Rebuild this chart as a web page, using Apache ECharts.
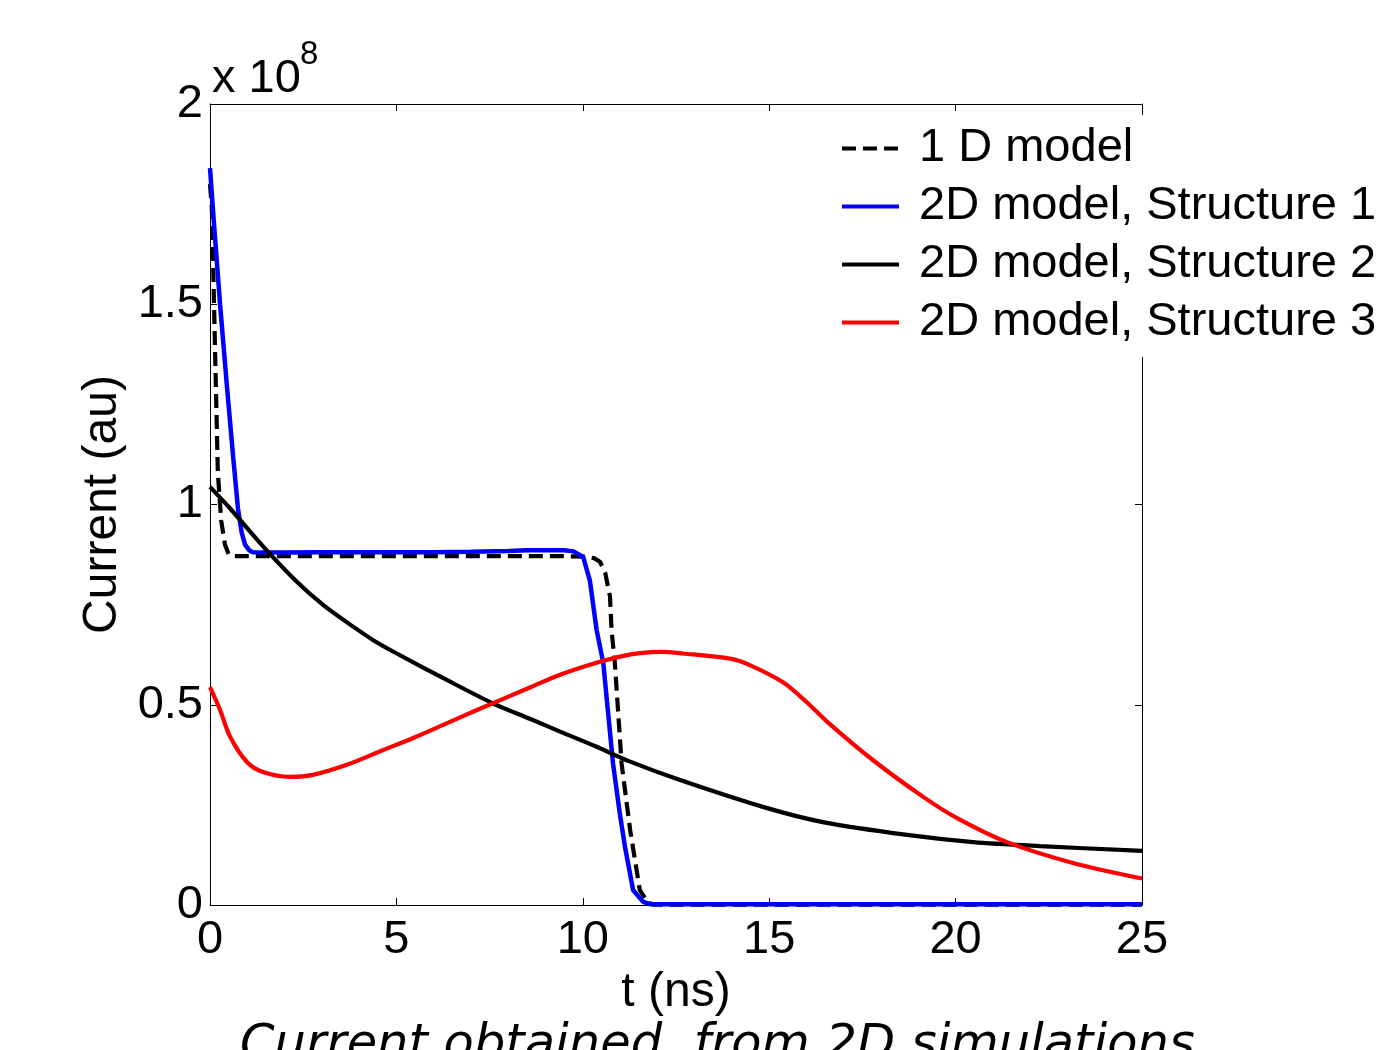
<!DOCTYPE html>
<html>
<head>
<meta charset="utf-8">
<script src="https://cdn.jsdelivr.net/npm/echarts@6/dist/echarts.min.js"></script>
<style>
html,body{margin:0;padding:0;background:#fff;}
#chart{width:1384px;height:1050px;}
</style>
</head>
<body>
<div id="chart"></div>
<script>
// Values of current in units of 1e8 (au), time in ns
const seriesNames = ['1 D model', '2D model, Structure 1', '2D model, Structure 2', '2D model, Structure 3'];
const xTicks = [0, 5, 10, 15, 20, 25];
const yTicks = [0, 0.5, 1, 1.5, 2];

const t1D = [0, 0.05, 0.13, 0.21, 0.3, 0.4, 0.5, 0.6, 2, 4, 6, 8, 9.5, 10.1, 10.3, 10.46, 10.6, 10.73, 10.77, 10.86, 11.04, 11.27, 11.53, 11.76, 11.9, 15, 20, 25];
const i1D = [1.80, 1.74, 1.41, 1.08, 0.96, 0.90, 0.876, 0.871, 0.871, 0.871, 0.871, 0.871, 0.871, 0.870, 0.866, 0.857, 0.83, 0.77, 0.687, 0.604, 0.354, 0.187, 0.037, 0.005, 0.001, 0.001, 0.001, 0.001];

const tS1 = [0, 0.1, 0.27, 0.45, 0.62, 0.75, 0.85, 0.94, 1.05, 1.15, 2, 3, 4, 5, 6, 7, 8, 8.5, 9, 9.5, 9.75, 10.01, 10.19, 10.37, 10.55, 10.68, 10.81, 10.99, 11.13, 11.35, 11.62, 11.8, 15, 20, 25];
const iS1 = [1.84, 1.71, 1.50, 1.30, 1.12, 0.99, 0.93, 0.90, 0.886, 0.881, 0.880, 0.881, 0.881, 0.881, 0.881, 0.882, 0.884, 0.886, 0.886, 0.886, 0.883, 0.869, 0.81, 0.687, 0.604, 0.479, 0.354, 0.23, 0.146, 0.037, 0.008, 0.002, 0.002, 0.002, 0.002];

const tS2 = [0, 0.54, 1.43, 2.33, 3.05, 3.84, 4.4, 5.01, 6.35, 7.6, 8.58, 9.39, 10.37, 11.27, 12.61, 14.83, 16.44, 18.7, 20.47, 22.26, 25];
const iS2 = [1.044, 0.990, 0.895, 0.807, 0.748, 0.695, 0.660, 0.628, 0.562, 0.503, 0.465, 0.433, 0.395, 0.358, 0.312, 0.245, 0.207, 0.175, 0.157, 0.147, 0.135];

const tS3 = [0, 0.27, 0.54, 0.99, 1.42, 2.15, 2.76, 3.67, 4.65, 5.45, 6.36, 7.24, 8.58, 9.39, 10.37, 11.09, 11.53, 12.1, 12.69, 13.95, 14.48, 15.37, 16.0, 16.55, 17.78, 19.13, 20.04, 21.38, 23.15, 25];
const iS3 = [0.544, 0.487, 0.42, 0.357, 0.332, 0.32, 0.325, 0.35, 0.387, 0.417, 0.454, 0.49, 0.543, 0.575, 0.605, 0.622, 0.629, 0.632, 0.628, 0.615, 0.599, 0.556, 0.507, 0.458, 0.362, 0.27, 0.217, 0.157, 0.105, 0.066];

function pairs(t, v) { return t.map((x, i) => [x, v[i]]); }

const FONT = 'Liberation Sans';
const FS = 47;
const chart = echarts.init(document.getElementById('chart'), null, {renderer: 'canvas'});

const axisCommon = {
  axisLine: {show: true, onZero: false, lineStyle: {color: '#000', width: 1}},
  axisTick: {show: true, inside: true, length: 7, lineStyle: {color: '#000', width: 1}},
  splitLine: {show: false}
};

chart.setOption({
  animation: false,
  backgroundColor: '#fff',
  grid: {left: 210, right: 242, top: 104, bottom: 145, containLabel: false},
  xAxis: [
    Object.assign({}, axisCommon, {
      type: 'value', position: 'bottom', min: xTicks[0], max: xTicks[xTicks.length - 1], interval: 5,
      name: 't (ns)', nameLocation: 'middle', nameGap: 53,
      nameTextStyle: {fontFamily: FONT, fontSize: 48, color: '#000'},
      axisLabel: {fontFamily: FONT, fontSize: FS, color: '#000', margin: 12}
    }),
    Object.assign({}, axisCommon, {
      type: 'value', position: 'top', min: xTicks[0], max: xTicks[xTicks.length - 1], interval: 5,
      axisLabel: {show: false}
    })
  ],
  yAxis: [
    Object.assign({}, axisCommon, {
      type: 'value', position: 'left', min: yTicks[0], max: yTicks[yTicks.length - 1], interval: 0.5,
      name: 'Current (au)', nameLocation: 'middle', nameGap: 80,
      nameTextStyle: {fontFamily: FONT, fontSize: 48, color: '#000'},
      axisLabel: {fontFamily: FONT, fontSize: FS, color: '#000', margin: 7,
        formatter: v => String(v)}
    }),
    Object.assign({}, axisCommon, {
      type: 'value', position: 'right', min: yTicks[0], max: yTicks[yTicks.length - 1], interval: 0.5,
      axisLabel: {show: false}
    })
  ],
  legend: {
    orient: 'vertical', left: 830, top: 115,
    padding: [10, 10, 11, 10],
    backgroundColor: '#fff',
    itemWidth: 57, itemHeight: 14, itemGap: 11,
    itemStyle: {opacity: 0, borderWidth: 0},
    lineStyle: {width: 4},
    data: seriesNames,
    textStyle: {fontFamily: FONT, fontSize: FS, color: '#000', lineHeight: 46, padding: [0, 0, 0, 15]}
  },
  graphic: [
    {
      type: 'text', left: 212, top: 56, z: 10,
      style: {text: 'x 10', fontFamily: FONT, fontSize: 47, fill: '#000'}
    },
    {
      type: 'text', left: 300, top: 38, z: 10,
      style: {text: '8', fontFamily: FONT, fontSize: 33, fill: '#000'}
    },
    {
      type: 'text', left: 240, top: 1021, z: 10,
      style: {
        text: 'Current obtained  from 2D simulations',
        fontFamily: 'DejaVu Sans', fontStyle: 'italic', fontSize: 49.5, fill: '#000'
      }
    }
  ],
  series: [
    {name: seriesNames[0], type: 'line', data: pairs(t1D, i1D), showSymbol: false, symbol: 'none',
      lineStyle: {color: '#000', width: 4.2, type: [14, 7]}, itemStyle: {color: '#000'}, z: 2},
    {name: seriesNames[1], type: 'line', data: pairs(tS1, iS1), showSymbol: false, symbol: 'none',
      lineStyle: {color: '#0000ff', width: 4.5}, itemStyle: {color: '#0000ff'}, z: 3},
    {name: seriesNames[2], type: 'line', data: pairs(tS2, iS2), showSymbol: false, symbol: 'none', smooth: 0.3,
      lineStyle: {color: '#000', width: 4.2}, itemStyle: {color: '#000'}, z: 4},
    {name: seriesNames[3], type: 'line', data: pairs(tS3, iS3), showSymbol: false, symbol: 'none', smooth: 0.3,
      lineStyle: {color: '#ff0000', width: 4.2}, itemStyle: {color: '#ff0000'}, z: 5}
  ]
});
</script>
</body>
</html>
